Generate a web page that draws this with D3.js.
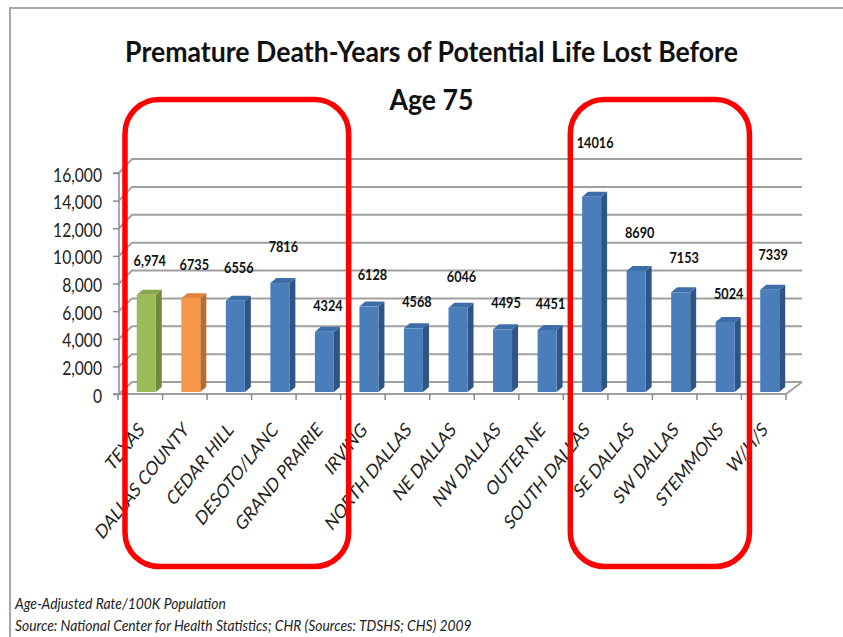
<!DOCTYPE html>
<html>
<head>
<meta charset="utf-8">
<script src="https://cdn.jsdelivr.net/npm/d3@7"></script>
<style>
  body { margin: 0; background: #fff; }
  svg { display: block; }
</style>
</head>
<body>
<svg id="chart" width="843" height="637"></svg>
<script>
// Data
const categories = ["TEXAS", "DALLAS COUNTY", "CEDAR HILL", "DESOTO/LANC", "GRAND PRAIRIE",
  "IRVING", "NORTH DALLAS", "NE DALLAS", "NW DALLAS", "OUTER NE",
  "SOUTH DALLAS", "SE DALLAS", "SW DALLAS", "STEMMONS", "W/H/S"];
const values = [6974, 6735, 6556, 7816, 4324, 6128, 4568, 6046, 4495, 4451, 14016, 8690, 7153, 5024, 7339];
const valueLabels = ["6,974", "6735", "6556", "7816", "4324", "6128", "4568", "6046", "4495", "4451",
  "14016", "8690", "7153", "5024", "7339"];
const yTicks = [0, 2000, 4000, 6000, 8000, 10000, 12000, 14000, 16000];
const titleLines = ["Premature Death-Years of Potential Life Lost Before", "Age 75"];
const notes = ["Age-Adjusted Rate/100K Population",
  "Source: National Center for Health Statistics; CHR (Sources: TDSHS; CHS) 2009"];
// groups circled in red (first and last category of each)
const highlights = [["TEXAS", "GRAND PRAIRIE"], ["SOUTH DALLAS", "STEMMONS"]];

const FONT = "Lato, 'Open Sans', sans-serif";

const svg = d3.select("#chart");

// factor to squeeze text horizontally so a sample node gets the wanted width
function squeeze(sampleNode, target) {
  return target / sampleNode.getComputedTextLength();
}

// outer frame of the slide
svg.append("path")
  .attr("d", "M10,640 L10,8 L845,8")
  .attr("fill", "none")
  .attr("stroke", "#a6a6a6")
  .attr("stroke-width", 2);

// Scales
const x = d3.scaleBand().domain(categories).range([118, 786]).padding(0);
const yFront = d3.scaleLinear().domain([0, 16000]).range([394, 173]);
const yBack = d3.scaleLinear().domain([0, 16000]).range([382, 159]);
const yBar = d3.scaleLinear().domain([0, 16000]).range([392, 169]);
const yLabel = d3.scaleLinear().domain([0, 16000]).range([377.5, 109.8]);

const backX0 = 132, backX1 = 802, frontX = 119;
const axisColor = "#8c8c8c";

// gridlines on the back wall with the left-wall diagonals
svg.append("g")
  .selectAll("path")
  .data(yTicks)
  .join("path")
  .attr("d", d => `M${frontX},${yFront(d)} L${backX0},${yBack(d)} L${backX1},${yBack(d)}`)
  .attr("fill", "none")
  .attr("stroke", "#a0a0a0")
  .attr("stroke-width", 2);

// floor front edge + right diagonal
svg.append("path")
  .attr("d", `M${frontX},${yFront(0)} L${x.range()[1]},${yFront(0)} L${backX1},${yBack(0)}`)
  .attr("fill", "none")
  .attr("stroke", "#a0a0a0")
  .attr("stroke-width", 2);

// y axis
const yAxis = d3.axisLeft(yFront)
  .tickValues(yTicks)
  .tickFormat(d3.format(","))
  .tickSize(6)
  .tickPadding(0);

const gy = svg.append("g")
  .attr("transform", `translate(${frontX},0)`)
  .call(yAxis);
gy.select(".domain").attr("stroke", axisColor).attr("stroke-width", 1.5)
  .attr("d", `M-6,${yFront(16000)}H0V${yFront(0)}H-6`);
gy.selectAll(".tick line").attr("stroke", axisColor).attr("stroke-width", 1.5);
const yt = gy.selectAll(".tick text")
  .attr("x", null)
  .attr("font-family", FONT)
  .attr("font-size", 19.5)
  .attr("fill", "#222")
  .attr("dy", "0.36em");
const ys = squeeze(yt.nodes()[yt.size() - 1], 49);
yt.attr("transform", `translate(-17,1) scale(${ys},1)`);

// x axis ticks (band boundaries)
const xb = categories.map(c => x(c)).concat([x.range()[1]]);
svg.append("g")
  .selectAll("line")
  .data(xb)
  .join("line")
  .attr("x1", d => d).attr("x2", d => d)
  .attr("y1", yFront(0)).attr("y2", yFront(0) + 6)
  .attr("stroke", axisColor)
  .attr("stroke-width", 1.5);

// x labels: rotated 45deg, then the whole slide look is squeezed sideways
const xl = svg.append("g")
  .selectAll("text")
  .data(categories)
  .join("text")
  .attr("text-anchor", "end")
  .attr("font-family", FONT)
  .attr("font-size", 20)
  .attr("fill", "#222")
  .text(d => d);
const xs = squeeze(xl.nodes()[1], 155);
const slideSqueeze = 0.8;
xl.attr("transform", d =>
  `translate(${x(d) + x.bandwidth() / 2 + 5},431) scale(${slideSqueeze},1) rotate(-45) scale(${xs},1)`);

// 3D bars
const palette = i => i === 0 ? ["#9bbb59", "#71893f", "#86a64a"]
  : i === 1 ? ["#f79646", "#b66d31", "#e0823d"]
  : ["#4a7ebb", "#2f5587", "#3e6ea8"];
const barW = 19, dx = 6, dy = -5, shift = 6;

const bars = svg.append("g")
  .selectAll("g")
  .data(categories)
  .join("g");

bars.each(function (d, i) {
  const g = d3.select(this);
  const [front, side, top] = palette(i);
  const x0 = x(d) + x.bandwidth() / 2 + shift - barW / 2;
  const x1 = x0 + barW;
  const ytop = yBar(values[i]);
  const yb = yBar(0);
  g.append("path")
    .attr("d", `M${x1},${ytop} L${x1 + dx},${ytop + dy} L${x1 + dx},${yb + dy} L${x1},${yb} Z`)
    .attr("fill", side);
  g.append("path")
    .attr("d", `M${x0},${ytop} L${x0 + dx},${ytop + dy} L${x1 + dx},${ytop + dy} L${x1},${ytop} Z`)
    .attr("fill", top);
  g.append("rect")
    .attr("x", x0).attr("y", ytop)
    .attr("width", barW).attr("height", yb - ytop)
    .attr("fill", front);
});

// value labels
const vl = svg.append("g")
  .selectAll("text")
  .data(categories)
  .join("text")
  .attr("text-anchor", "middle")
  .attr("font-family", FONT)
  .attr("font-weight", "bold")
  .attr("font-size", 15.5)
  .attr("fill", "#111")
  .text((d, i) => valueLabels[i]);
const vs = squeeze(vl.nodes()[1], 29.5);
vl.attr("transform", (d, i) =>
  `translate(${x(d) + x.bandwidth() / 2 + 9.5},${yLabel(values[i]) + 5.5}) scale(${vs},1)`);

// title
const tg = svg.append("g");
tg.selectAll("text")
  .data(titleLines)
  .join("text")
  .attr("x", 0)
  .attr("y", (d, i) => 62 + i * 48)
  .attr("text-anchor", "middle")
  .attr("font-family", FONT)
  .attr("font-weight", "bold")
  .attr("font-size", 28)
  .attr("fill", "#111")
  .text(d => d);
const tw = tg.select("text").node().getComputedTextLength();
tg.attr("transform", `translate(431.5,0) scale(${613 / tw},1)`);

// notes
const ng = svg.append("g");
ng.selectAll("text")
  .data(notes)
  .join("text")
  .attr("x", 0)
  .attr("y", (d, i) => 609 + i * 22)
  .attr("font-family", FONT)
  .attr("font-style", "italic")
  .attr("font-size", 14.5)
  .attr("fill", "#222")
  .text(d => d);
const nw = ng.selectAll("text").nodes()[1].getComputedTextLength();
ng.attr("transform", `translate(15,0) scale(${457 / nw},1)`);

// red highlight boxes
svg.append("g")
  .selectAll("rect")
  .data(highlights)
  .join("rect")
  .attr("x", d => x(d[0]) + 7)
  .attr("y", 99.5)
  .attr("width", d => x(d[1]) + x.bandwidth() + 8 - (x(d[0]) + 7))
  .attr("height", 467)
  .attr("rx", 34)
  .attr("fill", "none")
  .attr("stroke", "#ff0000")
  .attr("stroke-width", 5.5);
</script>
</body>
</html>
